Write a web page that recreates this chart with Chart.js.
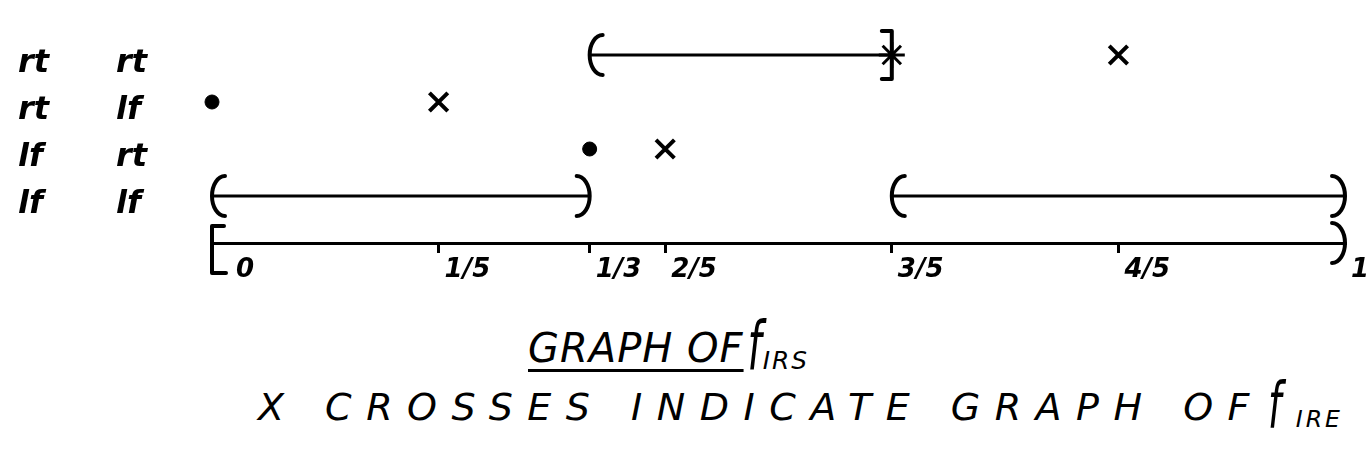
<!DOCTYPE html>
<html><head><meta charset="utf-8">
<script src="https://cdn.jsdelivr.net/npm/chart.js@4/dist/chart.umd.min.js"></script>
<style>
html,body{margin:0;padding:0;background:#fff;width:1367px;height:475px;overflow:hidden;}
#wrap{position:absolute;left:0;top:0;width:1367px;height:300px;}
.t{position:absolute;font-family:"DejaVu Sans";font-style:italic;color:#000;white-space:nowrap;line-height:1;}
.f{display:inline-block;transform:scaleY(1.7);transform-origin:50% 55%;margin-left:4px;}
.sub{font-size:0.62em;vertical-align:-0.3em;letter-spacing:2px;}
</style></head><body>
<div id="wrap"><canvas id="c" width="1367" height="300"></canvas></div>
<div class="t" style="left:528px;top:328px;font-size:40px;letter-spacing:1px;"><span style="text-decoration:underline;text-decoration-thickness:3px;text-underline-offset:7px;">GRAPH OF</span><span class="f">f</span><span class="sub">IRS</span></div>
<div class="t" style="left:258px;top:388px;font-size:38px;letter-spacing:14.5px;">X CROSSES INDICATE GRAPH OF<span class="f" style="margin-left:4px">f</span><span class="sub" style="letter-spacing:3px">IRE</span></div>
<script>
// ---- data ----
const rows = ['rt rt', 'rt lf', 'lf rt', 'lf lf'];
const rowWords = [['rt', 'rt'], ['rt', 'lf'], ['lf', 'rt'], ['lf', 'lf']];
const tickValues = [0, 1/5, 1/3, 2/5, 3/5, 4/5, 1];
const tickLabels = ['0', '1/5', '1/3', '2/5', '3/5', '4/5', '1'];

// graph of f_IRS : intervals
const intervalRows  = ['rt rt', 'lf lf', 'lf lf'];
const intervalStart = [1/3, 0, 3/5];
const intervalEnd   = [3/5, 1/3, 1];
const intervalStartType = ['open', 'open', 'open'];
const intervalEndType   = ['closed', 'open', 'open'];
// graph of f_IRS : isolated points
const dotRows = ['rt lf', 'lf rt'];
const dotX    = [0, 1/3];
// graph of f_IRE : crosses
const crossRows = ['rt rt', 'rt lf', 'lf rt'];
const crossX    = [4/5, 1/5, 2/5];
const starRows = ['rt rt'];
const starX    = [3/5];

// ---- build datasets ----
const datasets = [];
intervalRows.forEach((r, i) => {
  datasets.push({
    type: 'scatter', showLine: true,
    data: [{x: intervalStart[i], y: r}, {x: intervalEnd[i], y: r}],
    borderColor: '#000', borderWidth: 3, pointRadius: 0, clip: false,
    ends: [intervalStartType[i], intervalEndType[i]]
  });
});
datasets.push({
  type: 'scatter', data: dotRows.map((r, i) => ({x: dotX[i], y: r})),
  pointStyle: 'circle', pointRadius: 7, backgroundColor: '#000', borderColor: '#000', clip: false
});
datasets.push({
  type: 'scatter', data: crossRows.map((r, i) => ({x: crossX[i], y: r})),
  pointStyle: 'crossRot', pointRadius: 13, borderWidth: 4, borderColor: '#000', clip: false
});
datasets.push({
  type: 'scatter', data: starRows.map((r, i) => ({x: starX[i], y: r})),
  pointStyle: 'star', pointRadius: 13, borderWidth: 3, borderColor: '#000', clip: false
});

function openLeft(ctx, x, y) { ctx.beginPath(); ctx.ellipse(x + 13, y, 13, 20, 0, 0.5*Math.PI, 1.5*Math.PI); ctx.stroke(); }
function openRight(ctx, x, y) { ctx.beginPath(); ctx.ellipse(x - 13, y, 13, 20, 0, -0.5*Math.PI, 0.5*Math.PI); ctx.stroke(); }
function closedRight(ctx, x, y) {
  ctx.beginPath(); ctx.moveTo(x - 10, y - 24); ctx.lineTo(x, y - 24); ctx.lineTo(x, y + 24); ctx.lineTo(x - 10, y + 24); ctx.stroke();
}

const markerPlugin = {
  id: 'markers',
  afterDatasetsDraw(chart) {
    const ctx = chart.ctx;
    ctx.save();
    ctx.strokeStyle = '#000'; ctx.lineWidth = 4; ctx.lineCap = 'round'; ctx.lineJoin = 'round';
    chart.data.datasets.forEach((ds, i) => {
      if (!ds.ends) return;
      const m = chart.getDatasetMeta(i);
      const p0 = m.data[0], p1 = m.data[1];
      if (ds.ends[0] === 'open') openLeft(ctx, p0.x, p0.y);
      if (ds.ends[1] === 'open') openRight(ctx, p1.x, p1.y);
      else closedRight(ctx, p1.x, p1.y);
    });
    // axis ends: [0, 1)
    const xs = chart.scales.x, yb = chart.chartArea.bottom;
    const x0 = xs.getPixelForValue(0), x1 = xs.getPixelForValue(1);
    ctx.beginPath(); ctx.moveTo(x0 + 12, yb - 17); ctx.lineTo(x0, yb - 17); ctx.lineTo(x0, yb + 30); ctx.lineTo(x0 + 14, yb + 30); ctx.stroke();
    openRight(ctx, x1, yb);
    // row labels in two columns
    const ys = chart.scales.y;
    ctx.fillStyle = '#000'; ctx.font = 'bold italic 32px "DejaVu Sans"'; ctx.textBaseline = 'middle'; ctx.textAlign = 'left';
    rows.forEach((r, i) => {
      const y = ys.getPixelForValue(i) + 9;
      ctx.fillText(rowWords[i][0], 18, y);
      ctx.fillText(rowWords[i][1], 116, y);
    });
    ctx.restore();
  }
};

new Chart(document.getElementById('c'), {
  type: 'scatter',
  data: { datasets },
  plugins: [markerPlugin],
  options: {
    responsive: false, animation: false,
    layout: { padding: { left: 18, right: 22, top: 55, bottom: 0 } },
    plugins: { legend: { display: false }, tooltip: { enabled: false } },
    scales: {
      x: {
        type: 'linear', min: 0, max: 1,
        afterBuildTicks: s => { s.ticks = tickValues.map(v => ({value: v})); },
        afterFit: s => { s.height = 57; },
        border: { display: true, color: '#000', width: 3 },
        grid: { drawOnChartArea: false, drawTicks: true, tickLength: 10, lineWidth: 3,
                color: c => (c.tick && (c.tick.value === 0 || c.tick.value === 1)) ? 'rgba(0,0,0,0)' : '#000' },
        ticks: { align: 'start', padding: 2, labelOffset: 6, autoSkip: false, maxRotation: 0, color: '#000',
                 font: { family: 'DejaVu Sans', style: 'italic', weight: 'bold', size: 26 },
                 callback: (v, i) => i === 0 ? '  ' + tickLabels[i] : tickLabels[i] }
      },
      y: {
        type: 'category', labels: [...rows, ''], offset: false,
        afterFit: s => { s.width = 194; },
        border: { display: false }, grid: { display: false },
        ticks: { display: false }
      }
    }
  }
});
</script>
</body></html>
